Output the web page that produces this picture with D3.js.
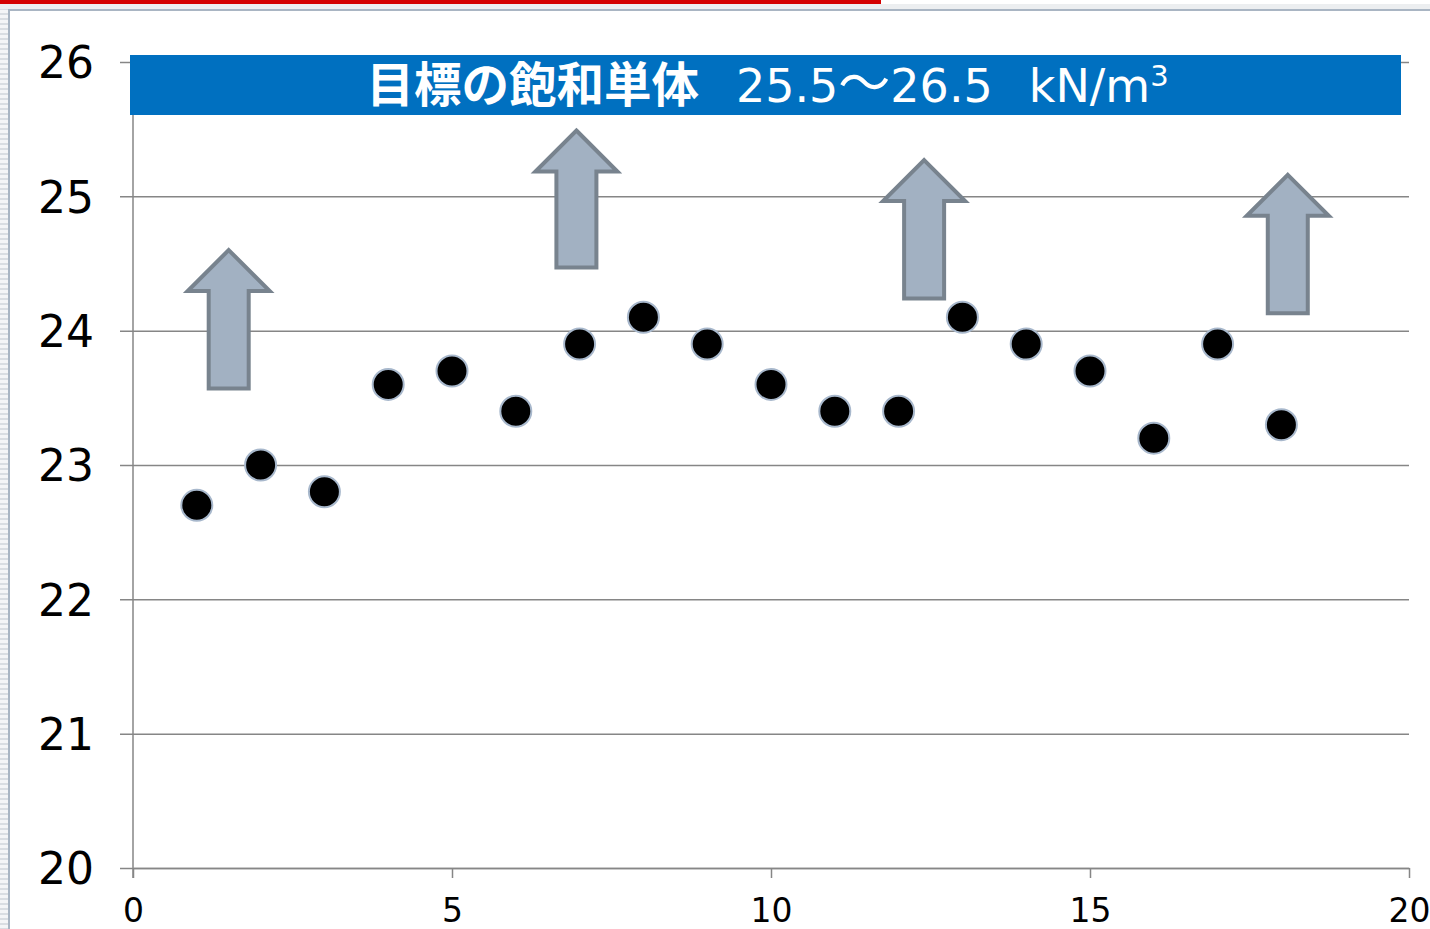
<!DOCTYPE html>
<html>
<head>
<meta charset="utf-8">
<script src="https://cdn.jsdelivr.net/npm/d3@7"></script>
<style>
  html, body { margin: 0; padding: 0; background: #fff; }
  svg { display: block; }
</style>
</head>
<body>
<svg id="chart" width="1430" height="929"></svg>
<script>
// Sample number on the x axis, saturated unit weight (kN/m3) on the y axis
const sampleNo = [1, 2, 3, 4, 5, 6, 7, 8, 9, 10, 11, 12, 13, 14, 15, 16, 17, 18];
const unitWeight = [22.7, 23.0, 22.8, 23.6, 23.7, 23.4, 23.9, 24.1, 23.9, 23.6, 23.4, 23.4, 24.1, 23.9, 23.7, 23.2, 23.9, 23.3];

// Upward arrows: centre x, base value and tip value
const arrowX = [1.5, 6.95, 12.4, 18.1];
const arrowBase = [23.57, 24.47, 24.24, 24.13];
const arrowTip = [24.6, 25.49, 25.27, 25.16];

const xTicks = [0, 5, 10, 15, 20];
const yTicks = [20, 21, 22, 23, 24, 25, 26];

// Banner title pieces
const titleJa = "目標の飽和単体";
const titleLow = "25.5";
const titleTilde = "～";
const titleHigh = "26.5";
const titleUnit = "kN/m";
const titleSup = "3";

const svg = d3.select("#chart");
const font = "'DejaVu Sans', Verdana, sans-serif";
const cjk = "'Noto Sans CJK JP', sans-serif";

const x = d3.scaleLinear().domain([0, 20]).range([133, 1409]);
const y = d3.scaleLinear().domain([20, 26]).range([868, 62]);

// Page frame: red strip, top rule and striped left margin
const defs = svg.append("defs");
const pat = defs.append("pattern").attr("id", "stripes")
  .attr("width", 8).attr("height", 5).attr("patternUnits", "userSpaceOnUse");
pat.append("rect").attr("width", 8).attr("height", 5).attr("fill", "#f4f5f7");
pat.append("rect").attr("y", 3).attr("width", 8).attr("height", 2).attr("fill", "#d9dde2");

svg.append("rect").attr("x", 0).attr("y", 0).attr("width", 8).attr("height", 929).attr("fill", "url(#stripes)");
svg.append("rect").attr("x", 0).attr("y", 4).attr("width", 1430).attr("height", 5).attr("fill", "#eceef0");
svg.append("rect").attr("x", 0).attr("y", 0).attr("width", 881).attr("height", 4).attr("fill", "#d40000");
svg.append("rect").attr("x", 8).attr("y", 9).attr("width", 1422).attr("height", 2).attr("fill", "#a9b5c3");
svg.append("rect").attr("x", 8).attr("y", 9).attr("width", 2).attr("height", 920).attr("fill", "#a9b5c3");

const gridColor = "#868686";

// Horizontal gridlines with left tick stubs and labels
const yAxis = svg.append("g")
  .attr("transform", "translate(120,0)")
  .call(d3.axisLeft(y).tickValues(yTicks).tickSizeInner(-(1409 - 120)).tickSizeOuter(0).tickPadding(26).tickFormat(d3.format("d")));
yAxis.select(".domain").remove();
yAxis.selectAll(".tick line").attr("stroke", gridColor).attr("stroke-width", 1.5);
yAxis.selectAll(".tick text")
  .attr("fill", "#000").attr("font-family", font).attr("font-size", 44).attr("dy", "0.36em");

// Vertical axis line
svg.append("line")
  .attr("x1", x(0)).attr("x2", x(0))
  .attr("y1", y(26)).attr("y2", y(20) + 10)
  .attr("stroke", gridColor).attr("stroke-width", 1.5);

// X axis
const xAxis = svg.append("g")
  .attr("transform", `translate(0,${y(20)})`)
  .call(d3.axisBottom(x).tickValues(xTicks).tickSizeInner(10).tickSizeOuter(0).tickPadding(21).tickFormat(d3.format("d")));
xAxis.select(".domain").attr("stroke", gridColor).attr("stroke-width", 1.5);
xAxis.selectAll(".tick line").attr("stroke", gridColor).attr("stroke-width", 1.5);
xAxis.selectAll(".tick text")
  .attr("fill", "#000").attr("font-family", font).attr("font-size", 33);

// Title banner
const bannerLeft = 130, bannerRight = 1401;
svg.append("rect")
  .attr("x", bannerLeft).attr("y", 55)
  .attr("width", bannerRight - bannerLeft).attr("height", 60)
  .attr("fill", "#0070c0");
const title = svg.append("text")
  .attr("x", (bannerLeft + bannerRight) / 2 + 2).attr("y", 102)
  .attr("text-anchor", "middle").attr("fill", "#fff");
title.append("tspan")
  .attr("font-family", cjk).attr("font-weight", "bold").attr("font-size", 47.5)
  .text(titleJa);
title.append("tspan")
  .attr("font-family", font).attr("font-size", 46).attr("dx", 37)
  .text(titleLow);
title.append("tspan")
  .attr("font-family", cjk).attr("font-size", 52)
  .text(titleTilde);
title.append("tspan")
  .attr("font-family", font).attr("font-size", 46)
  .text(titleHigh);
title.append("tspan")
  .attr("font-family", font).attr("font-size", 46).attr("dx", 36)
  .text(titleUnit);
title.append("tspan")
  .attr("font-family", font).attr("font-size", 29).attr("dy", -16)
  .text(titleSup);

// Block arrows pointing upward
const shaftHalf = 20, headHalf = 41, headLen = 41;
const arrowPath = (i) => {
  const cx = x(arrowX[i]), tip = y(arrowTip[i]), base = y(arrowBase[i]);
  const neck = tip + headLen;
  return `M${cx},${tip} L${cx + headHalf},${neck} L${cx + shaftHalf},${neck} L${cx + shaftHalf},${base} ` +
         `L${cx - shaftHalf},${base} L${cx - shaftHalf},${neck} L${cx - headHalf},${neck} Z`;
};
svg.append("g").selectAll("path")
  .data(arrowX.map((_, i) => i))
  .join("path")
  .attr("d", arrowPath)
  .attr("fill", "#a2b1c2")
  .attr("stroke", "#78838e")
  .attr("stroke-width", 4)
  .attr("stroke-linejoin", "miter");

// Measured points
svg.append("g").selectAll("circle")
  .data(sampleNo.map((d, i) => ({ n: d, v: unitWeight[i] })))
  .join("circle")
  .attr("cx", d => x(d.n))
  .attr("cy", d => y(d.v))
  .attr("r", 15.5)
  .attr("fill", "#000")
  .attr("stroke", "#a8b8cc")
  .attr("stroke-width", 2);
</script>
</body>
</html>
